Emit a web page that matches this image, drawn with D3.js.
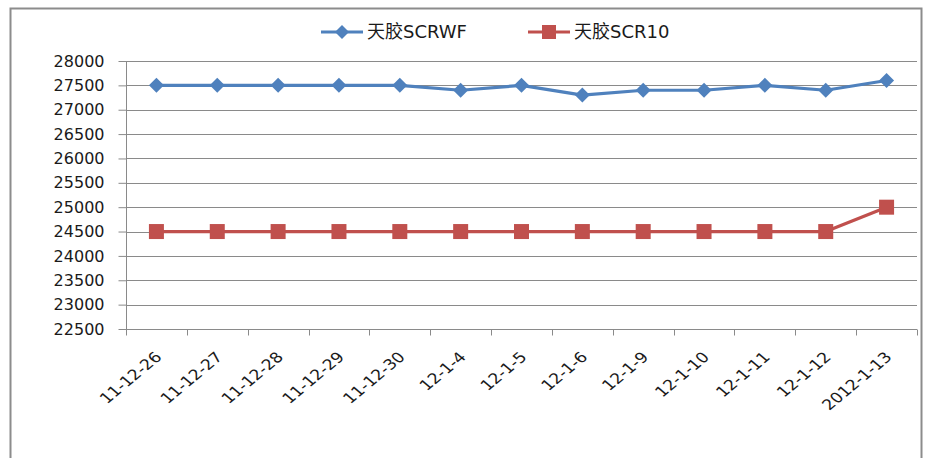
<!DOCTYPE html>
<html>
<head>
<meta charset="utf-8">
<script src="https://cdn.jsdelivr.net/npm/d3@7"></script>
<style>
  html, body { margin: 0; padding: 0; background: #fff; }
  svg { display: block; }
  text { font-family: "DejaVu Sans", "Noto Sans CJK SC", sans-serif; fill: #1a1a1a; }
</style>
</head>
<body>
<svg id="chart" width="928" height="458"></svg>
<script>
const categories = ["11-12-26", "11-12-27", "11-12-28", "11-12-29", "11-12-30", "12-1-4", "12-1-5",
  "12-1-6", "12-1-9", "12-1-10", "12-1-11", "12-1-12", "2012-1-13"];
const scrwf = [27500, 27500, 27500, 27500, 27500, 27400, 27500, 27300, 27400, 27400, 27500, 27400, 27600];
const scr10 = [24500, 24500, 24500, 24500, 24500, 24500, 24500, 24500, 24500, 24500, 24500, 24500, 25000];
const yTicks = [22500, 23000, 23500, 24000, 24500, 25000, 25500, 26000, 26500, 27000, 27500, 28000];
const seriesNames = ["天胶SCRWF", "天胶SCR10"];

const svg = d3.select("#chart");
const plot = { left: 126, right: 917, top: 61, bottom: 329 };

// outer chart frame (bottom edge falls outside the view)
svg.append("rect")
  .attr("x", 10.5).attr("y", 8.5).attr("width", 911).attr("height", 470)
  .attr("fill", "#fff").attr("stroke", "#8c8c8c").attr("stroke-width", 2);

const x = d3.scaleBand().domain(categories).range([plot.left, plot.right]).padding(0);
const y = d3.scaleLinear().domain([22500, 28000]).range([plot.bottom, plot.top]);
const cx = c => x(c) + x.bandwidth() / 2;

// horizontal gridlines
svg.append("g").selectAll("line").data(yTicks.slice(1)).join("line")
  .attr("x1", plot.left).attr("x2", plot.right)
  .attr("y1", d => Math.round(y(d)) + 0.5).attr("y2", d => Math.round(y(d)) + 0.5)
  .attr("stroke", "#8a8a8a").attr("stroke-width", 1);

// y axis
const yAxis = svg.append("g").attr("transform", `translate(${plot.left + 0.5},0)`)
  .call(d3.axisLeft(y).tickValues(yTicks).tickSize(8).tickPadding(14).tickFormat(d3.format("d")));
yAxis.select(".domain").attr("stroke", "#8a8a8a").attr("d", `M0,${plot.top}V${plot.bottom}`);
yAxis.selectAll(".tick line").attr("stroke", "#8a8a8a");
yAxis.selectAll(".tick text").attr("font-size", 16).attr("fill", "#1a1a1a")
  .attr("font-family", "'DejaVu Sans', sans-serif");

// x axis with ticks on category boundaries
const xAxis = svg.append("g").attr("transform", `translate(0,${Math.round(y(22500)) + 0.5})`);
xAxis.append("line").attr("x1", plot.left).attr("x2", plot.right).attr("stroke", "#8a8a8a");
const bounds = categories.map(c => x(c)).concat([plot.right]);
xAxis.selectAll("line.tk").data(bounds).join("line").attr("class", "tk")
  .attr("x1", d => Math.round(d) + 0.5).attr("x2", d => Math.round(d) + 0.5)
  .attr("y1", 0).attr("y2", 6).attr("stroke", "#8a8a8a");
// slanted category labels, slightly widened
xAxis.selectAll("text").data(categories).join("text")
  .attr("transform", d => `translate(${cx(d) + 2},${25}) scale(1.2,1) rotate(-45)`)
  .attr("text-anchor", "end").attr("dy", "0.35em")
  .attr("font-size", 14.5).text(d => d);

const line = d3.line().x((d, i) => cx(categories[i])).y(d => y(d));

// SCRWF series (blue, diamonds)
svg.append("path").datum(scrwf).attr("d", line)
  .attr("fill", "none").attr("stroke", "#4f81bd").attr("stroke-width", 3.2).attr("stroke-linejoin", "round");
svg.append("g").selectAll("path").data(scrwf).join("path")
  .attr("transform", (d, i) => `translate(${cx(categories[i])},${y(d)})`)
  .attr("d", "M0,-7.5L7.5,0L0,7.5L-7.5,0Z").attr("fill", "#4f81bd");

// SCR10 series (red, squares)
svg.append("path").datum(scr10).attr("d", line)
  .attr("fill", "none").attr("stroke", "#c0504d").attr("stroke-width", 3.2).attr("stroke-linejoin", "round");
svg.append("g").selectAll("rect").data(scr10).join("rect")
  .attr("x", (d, i) => cx(categories[i]) - 7.5)
  .attr("y", d => y(d) - 7.5).attr("width", 15).attr("height", 15).attr("fill", "#c0504d");

// legend
const legend = svg.append("g");
const legItems = [
  { name: seriesNames[0], color: "#4f81bd", x: 321, shape: "diamond" },
  { name: seriesNames[1], color: "#c0504d", x: 528, shape: "square" }
];
legItems.forEach(it => {
  const g = legend.append("g").attr("transform", `translate(${it.x},32)`);
  g.append("line").attr("x1", 0).attr("x2", 42).attr("stroke", it.color).attr("stroke-width", 3.2);
  if (it.shape === "diamond") {
    g.append("path").attr("d", "M21,-7L28,0L21,7L14,0Z").attr("fill", it.color);
  } else {
    g.append("rect").attr("x", 14).attr("y", -7).attr("width", 14).attr("height", 14).attr("fill", it.color);
  }
  g.append("text").attr("x", 46).attr("dy", "0.36em").attr("font-size", 18).text(it.name);
});
</script>
</body>
</html>
